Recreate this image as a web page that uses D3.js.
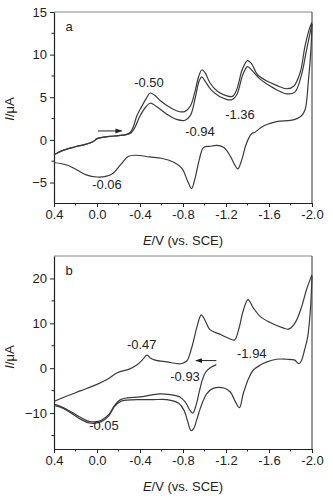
<!DOCTYPE html>
<html>
<head>
<meta charset="utf-8">
<script src="https://cdn.jsdelivr.net/npm/d3@7"></script>
<style>
	body { margin: 0; background: #fff; }
	svg { display: block; }
	text { font-family: "Liberation Sans", Arial, sans-serif; fill: #222; }
	.curve { fill: none; stroke: #3a3a3a; stroke-width: 1.2; }
	.axis path, .axis line { stroke: #222; }
</style>
</head>
<body>
<svg width="333" height="498"></svg>
<script>
// potential ticks shared by both panels
var eTicks = [0.4, 0.0, -0.4, -0.8, -1.2, -1.6, -2.0]
var eMinor = [0.2, -0.2, -0.6, -1.0, -1.4, -1.8]

// panel a : [E (V), I (uA)]
var aTicks = [-5, 0, 5, 10, 15]
var aMinor = [-2.5, 2.5, 7.5, 12.5]
var aFwd1 = [[0.40,-1.75],[0.31,-1.2],[0.20,-0.8],[0.10,-0.5],[0.03,-0.15],[0.0,0.15],[-0.05,0.3],[-0.12,0.42],[-0.2,0.5],[-0.27,0.62],
	[-0.31,0.9],[-0.34,1.6],[-0.37,2.8],[-0.415,3.9],[-0.46,4.9],[-0.495,5.5],[-0.54,5.2],[-0.59,4.6],[-0.68,3.8],[-0.77,3.3],[-0.82,3.35],
	[-0.87,4.0],[-0.91,5.6],[-0.945,7.4],[-0.975,8.2],[-1.005,7.9],[-1.05,6.7],[-1.12,5.7],[-1.2,5.2],[-1.26,5.1],[-1.30,5.9],[-1.35,8.2],
	[-1.40,9.3],[-1.44,8.9],[-1.49,7.7],[-1.58,6.9],[-1.67,6.4],[-1.765,6.0],[-1.83,6.3],[-1.89,7.9],[-1.935,11.0],[-1.98,13.2],[-2.0,13.8]]
var aFwd2 = [[0.40,-1.75],[0.31,-1.2],[0.20,-0.8],[0.10,-0.5],[0.03,-0.15],[0.0,0.15],[-0.05,0.3],[-0.12,0.42],[-0.2,0.5],[-0.27,0.62],
	[-0.31,0.75],[-0.35,1.4],[-0.40,2.8],[-0.45,3.8],[-0.495,4.3],[-0.55,3.95],[-0.65,3.0],[-0.74,2.4],[-0.82,2.3],[-0.87,2.9],
	[-0.915,5.0],[-0.95,6.9],[-0.975,7.4],[-1.005,6.9],[-1.06,5.9],[-1.14,5.1],[-1.25,4.7],[-1.30,5.3],[-1.355,7.6],[-1.40,8.6],
	[-1.445,8.1],[-1.52,7.1],[-1.64,6.1],[-1.765,5.4],[-1.84,5.6],[-1.9,7.5],[-1.95,10.6],[-2.0,13.6]]
var aRev = [[-2.0,13.6],[-1.99,10.6],[-1.965,6.7],[-1.935,3.5],[-1.9,2.8],[-1.86,2.5],[-1.8,2.3],[-1.67,2.15],[-1.58,1.8],[-1.52,1.4],
	[-1.47,0.9],[-1.44,0.75],[-1.415,0.3],[-1.38,-0.8],[-1.345,-2.4],[-1.31,-3.4],[-1.28,-2.9],[-1.24,-1.9],[-1.18,-0.9],[-1.12,-0.65],
	[-1.05,-0.75],[-0.99,-0.9],[-0.95,-2.4],[-0.91,-4.6],[-0.88,-5.7],[-0.845,-4.9],[-0.79,-3.35],[-0.71,-2.6],[-0.6,-2.15],[-0.49,-2.0],
	[-0.36,-1.8],[-0.29,-1.95],[-0.22,-2.9],[-0.15,-3.9],[-0.09,-4.25],[0.0,-4.35],[0.1,-4.1],[0.19,-3.5],[0.28,-2.95],[0.4,-2.65]]
var aLabels = [["-0.50",-0.484,6.7],["-0.94",-0.958,1.0],["-1.36",-1.33,3.0],["-0.06",-0.093,-5.2]]
var aArrow = [[-0.01,1.05],[-0.23,1.05]]

// panel b
var bTicks = [-10, 0, 10, 20]
var bMinor = [-15, -5, 5, 15]
var bFwd = [[0.4,-7.4],[0.28,-6.2],[0.15,-5.0],[0.0,-3.6],[-0.1,-2.4],[-0.19,-1.0],[-0.3,-0.2],[-0.37,0.7],[-0.42,1.8],[-0.465,2.9],
	[-0.5,2.2],[-0.54,1.8],[-0.65,1.4],[-0.78,1.0],[-0.835,1.6],[-0.88,4.5],[-0.93,9.2],[-0.97,11.9],[-1.01,10.4],[-1.05,8.6],
	[-1.15,7.5],[-1.24,6.5],[-1.28,6.3],[-1.32,8.8],[-1.36,12.8],[-1.405,15.3],[-1.455,13.4],[-1.52,11.5],[-1.61,10.2],[-1.73,9.0],
	[-1.78,8.7],[-1.84,10.0],[-1.9,13.4],[-1.95,17.6],[-2.0,20.8]]
var bRev1 = [[-2.0,20.5],[-1.985,13],[-1.96,7],[-1.93,4.0],[-1.9,1.6],[-1.88,1.0],[-1.86,1.3],[-1.84,1.8],[-1.76,2.0],[-1.67,2.0],
	[-1.58,1.4],[-1.52,0.7],[-1.455,-0.4],[-1.41,-2.3],[-1.36,-5.7],[-1.325,-8.8],[-1.29,-7.6],[-1.24,-5.3],[-1.18,-4.4],[-1.08,-4.5],
	[-1.02,-5.7],[-0.96,-9.0],[-0.93,-11.3],[-0.90,-13.4],[-0.875,-13.9],[-0.845,-12.0],[-0.81,-9.4],[-0.76,-7.8],[-0.65,-7.0],
	[-0.52,-7.0],[-0.4,-7.0],[-0.28,-7.1],[-0.22,-7.4],[-0.16,-8.6],[-0.11,-10.6],[-0.04,-11.9],[0.0,-12.2],[0.07,-12.2],[0.15,-11.4],
	[0.22,-10.3],[0.28,-9.4],[0.34,-8.7],[0.4,-8.3]]
var bRev2 = [[-1.11,0.8],[-1.06,0.2],[-1.01,-0.9],[-0.98,-2.6],[-0.95,-5.4],[-0.92,-8.4],[-0.89,-10.0],[-0.86,-9.2],[-0.82,-7.5],
	[-0.77,-6.4],[-0.68,-5.9],[-0.59,-5.7],[-0.5,-6.0],[-0.4,-6.4],[-0.28,-6.6],[-0.22,-7.0],[-0.16,-8.4],[-0.11,-10.3],[-0.04,-11.6],
	[0.0,-11.9],[0.07,-11.9],[0.15,-11.0],[0.22,-10.0],[0.28,-9.2],[0.34,-8.5],[0.4,-8.0]]
var bLabels = [["-0.47",-0.416,5.4],["-0.93",-0.819,-1.9],["-1.94",-1.44,3.3],["-0.05",-0.065,-12.7]]
var bArrow = [[-1.11,1.7],[-0.92,1.7]]

var svg = d3.select('svg')
var left = 54, right = 312

svg.append('defs').append('marker')
	.attr('id', 'head')
	.attr('viewBox', '0 0 10 10')
	.attr('refX', 9).attr('refY', 5)
	.attr('markerWidth', 7).attr('markerHeight', 7)
	.attr('markerUnits', 'userSpaceOnUse')
	.attr('orient', 'auto')
	.append('path')
	.attr('d', 'M0,1.5 L10,5 L0,8.5 Z')
	.attr('fill', '#222')

function panel(opt) {
	var x = d3.scaleLinear().domain([0.4, -2.0]).range([left, right])
	var y = d3.scaleLinear().domain(opt.yDomain).range([opt.bottom, opt.top])
	var g = svg.append('g')

	// frame top / right
	g.append('line').attr('x1', left).attr('x2', right).attr('y1', opt.top).attr('y2', opt.top)
		.attr('stroke', '#888').attr('stroke-width', 1)
	g.append('line').attr('x1', right).attr('x2', right).attr('y1', opt.top).attr('y2', opt.bottom)
		.attr('stroke', '#333').attr('stroke-width', 1)

	var xa = g.append('g').attr('class', 'axis').attr('transform', 'translate(0,' + opt.bottom + ')')
		.call(d3.axisBottom(x).tickValues(eTicks).tickSize(4).tickSizeOuter(0).tickPadding(3)
			.tickFormat(function(d) { return d.toFixed(1) }))
	xa.append('g').selectAll('line').data(eMinor).enter().append('line')
		.attr('x1', x).attr('x2', x).attr('y1', 0).attr('y2', 2.5).attr('stroke', '#222')

	var ya = g.append('g').attr('class', 'axis').attr('transform', 'translate(' + left + ',0)')
		.call(d3.axisLeft(y).tickValues(opt.ticks).tickSize(4).tickSizeOuter(0).tickPadding(3))
	ya.append('g').selectAll('line').data(opt.minor).enter().append('line')
		.attr('y1', y).attr('y2', y).attr('x1', 0).attr('x2', -2.5).attr('stroke', '#222')
	g.selectAll('.axis text').attr('font-size', 13).attr('fill', '#222')
		.style('font-family', '"Liberation Sans", Arial, sans-serif')
	g.selectAll('.axis path').attr('stroke-width', 1.2)

	var line = d3.line()
		.x(function(d) { return x(d[0]) })
		.y(function(d) { return y(d[1]) })
		.curve(d3.curveCatmullRom.alpha(0.5))

	g.selectAll('path.curve').data(opt.curves).enter().append('path')
		.attr('class', 'curve').attr('d', line)

	g.append('line')
		.attr('x1', x(opt.arrow[0][0])).attr('y1', y(opt.arrow[0][1]))
		.attr('x2', x(opt.arrow[1][0])).attr('y2', y(opt.arrow[1][1]))
		.attr('stroke', '#222').attr('stroke-width', 1).attr('marker-end', 'url(#head)')

	g.selectAll('text.lab').data(opt.labels).enter().append('text')
		.attr('class', 'lab')
		.attr('x', function(d) { return x(d[1]) })
		.attr('y', function(d) { return y(d[2]) })
		.attr('dy', '0.36em')
		.attr('text-anchor', 'middle')
		.attr('font-size', 13)
		.text(function(d) { return d[0] })

	g.append('text').attr('x', left + 15).attr('y', opt.top + 19)
		.attr('text-anchor', 'middle').attr('font-size', 13).text(opt.name)

	var xt = g.append('text').attr('x', (left + right) / 2).attr('y', opt.bottom + 42)
		.attr('text-anchor', 'middle').attr('font-size', 13)
	xt.append('tspan').attr('font-style', 'italic').text('E')
	xt.append('tspan').text('/V (vs. SCE)')

	var yt = g.append('text')
		.attr('transform', 'translate(14,' + opt.yMid + ') rotate(-90)')
		.attr('text-anchor', 'middle').attr('font-size', 13)
	yt.append('tspan').attr('font-style', 'italic').text('I')
	yt.append('tspan').text('/\u03BCA')
}

panel({
	name: 'a', top: 12, bottom: 203, yDomain: [-7.4, 15], yMid: 109,
	ticks: aTicks, minor: aMinor, curves: [aFwd1, aFwd2, aRev],
	labels: aLabels, arrow: aArrow
})
panel({
	name: 'b', top: 256, bottom: 449, yDomain: [-18, 25], yMid: 357,
	ticks: bTicks, minor: bMinor, curves: [bFwd, bRev1, bRev2],
	labels: bLabels, arrow: bArrow
})
</script>
</body>
</html>
